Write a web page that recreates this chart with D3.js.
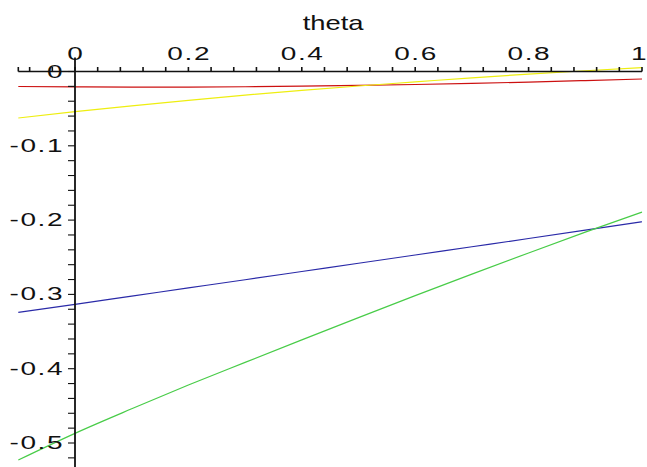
<!DOCTYPE html>
<html>
<head>
<meta charset="utf-8">
<script src="https://cdn.jsdelivr.net/npm/d3@7"></script>
<style>
  html, body { margin: 0; padding: 0; background: #fff; }
  svg { display: block; }
  text { font-family: "Liberation Sans", Arial, sans-serif; fill: #111; }
</style>
</head>
<body>
<svg id="chart" width="647" height="467"></svg>
<script>
// theta sample points
const theta = [-0.1, 0, 0.1, 0.2, 0.3, 0.4, 0.5, 0.6, 0.7, 0.8, 0.9, 1.0];

// four curves over theta
const redSeries    = [-0.0202, -0.0207, -0.0210, -0.0209, -0.0205, -0.0198, -0.0188, -0.0175, -0.0160, -0.0142, -0.0122, -0.0101];
const yellowSeries = [-0.0626, -0.0541, -0.0462, -0.0388, -0.0318, -0.0254, -0.0195, -0.0140, -0.0085, -0.0035, 0.0010, 0.0051];
const blueSeries   = [-0.3241, -0.3133, -0.3023, -0.2913, -0.2803, -0.2692, -0.2581, -0.2470, -0.2359, -0.2248, -0.2136, -0.2022];
const greenSeries  = [-0.5229, -0.4870, -0.4540, -0.4220, -0.3915, -0.3612, -0.3312, -0.3017, -0.2727, -0.2442, -0.2162, -0.1892];

const seriesColors = ["#cc1010", "#eeee10", "#2a2aa8", "#48cc48"];

// axis ticks and labels
const xMajorTicks  = [0, 0.2, 0.4, 0.6, 0.8, 1];
const xTickLabels  = ["0", "0.2", "0.4", "0.6", "0.8", "1"];
const xMinorTicks  = [-0.1, -0.08, -0.04, 0.04, 0.08, 0.12, 0.16, 0.24, 0.28, 0.32, 0.36, 0.44, 0.48, 0.52, 0.56, 0.64, 0.68, 0.72, 0.76, 0.84, 0.88, 0.92, 0.96];
const yMajorTicks  = [0, -0.1, -0.2, -0.3, -0.4, -0.5];
const yTickLabels  = ["0", "-0.1", "-0.2", "-0.3", "-0.4", "-0.5"];
const yMinorTicks  = [-0.02, -0.04, -0.06, -0.08, -0.12, -0.14, -0.16, -0.18, -0.22, -0.24, -0.26, -0.28, -0.32, -0.34, -0.36, -0.38, -0.42, -0.44, -0.46, -0.48, -0.52];
const xAxisTitle = "theta";

const svg = d3.select("#chart");
const W = 647;

const x = d3.scaleLinear().domain([-0.1, 1]).range([18.3, 642]);
const y = d3.scaleLinear().domain([0, -0.5]).range([71.5, 443]);

// glyphs are drawn wide, stretched horizontally
const stretch = 1.6;
const spacing = 1.0;

// curves
const series = [redSeries, yellowSeries, blueSeries, greenSeries];
const line = d3.line()
  .x((d, i) => x(theta[i]))
  .y(d => y(d))
  .curve(d3.curveMonotoneX);

svg.append("g")
  .selectAll("path")
  .data(series)
  .join("path")
  .attr("d", d => line(d))
  .attr("fill", "none")
  .attr("stroke", (d, i) => seriesColors[i])
  .attr("stroke-width", 1.2);

// axes (drawn through the origin)
const axes = svg.append("g").attr("stroke", "#111");

axes.append("line")
  .attr("x1", x(-0.1)).attr("x2", x(1))
  .attr("y1", y(0)).attr("y2", y(0))
  .attr("stroke-width", 1.3);

axes.append("line")
  .attr("x1", x(0)).attr("x2", x(0))
  .attr("y1", y(0.019)).attr("y2", 467)
  .attr("stroke-width", 1.8);

// x ticks point upward
axes.selectAll("line.xt")
  .data(xMajorTicks.concat(xMinorTicks))
  .join("line")
  .attr("class", "xt")
  .attr("x1", d => x(d)).attr("x2", d => x(d))
  .attr("y1", y(0)).attr("y2", y(0) - 4.5)
  .attr("stroke-width", 1.6);

// y ticks point left
axes.selectAll("line.yt")
  .data(yMajorTicks.concat(yMinorTicks))
  .join("line")
  .attr("class", "yt")
  .attr("x1", x(0)).attr("x2", x(0) - 7)
  .attr("y1", d => y(d)).attr("y2", d => y(d))
  .attr("stroke-width", 1.1);

// x tick labels above the axis; the last one is kept inside the right edge
const lastX = xMajorTicks.length - 1;
svg.append("g")
  .selectAll("text")
  .data(xMajorTicks)
  .join("text")
  .attr("transform", (d, i) => i === lastX
    ? `translate(${W - 0.5},${y(0) - 11.5}) scale(${stretch},1)`
    : `translate(${x(d) + spacing * stretch / 2},${y(0) - 11.5}) scale(${stretch},1)`)
  .attr("text-anchor", (d, i) => i === lastX ? "end" : "middle")
  .attr("font-size", 17.5)
  .attr("letter-spacing", (d, i) => i === lastX ? 0 : spacing)
  .text((d, i) => xTickLabels[i]);

// y tick labels to the left of the axis
svg.append("g")
  .selectAll("text")
  .data(yMajorTicks)
  .join("text")
  .attr("transform", d => `translate(${62.5 + spacing * stretch},${y(d) + 6}) scale(${stretch},1)`)
  .attr("text-anchor", "end")
  .attr("font-size", 17.5)
  .attr("letter-spacing", spacing)
  .text((d, i) => yTickLabels[i]);

// axis title
svg.append("text")
  .attr("transform", `translate(${(x(-0.1) + x(1)) / 2 + 3},30) scale(1.37,1)`)
  .attr("text-anchor", "middle")
  .attr("font-size", 20)
  .text(xAxisTitle);
</script>
</body>
</html>
